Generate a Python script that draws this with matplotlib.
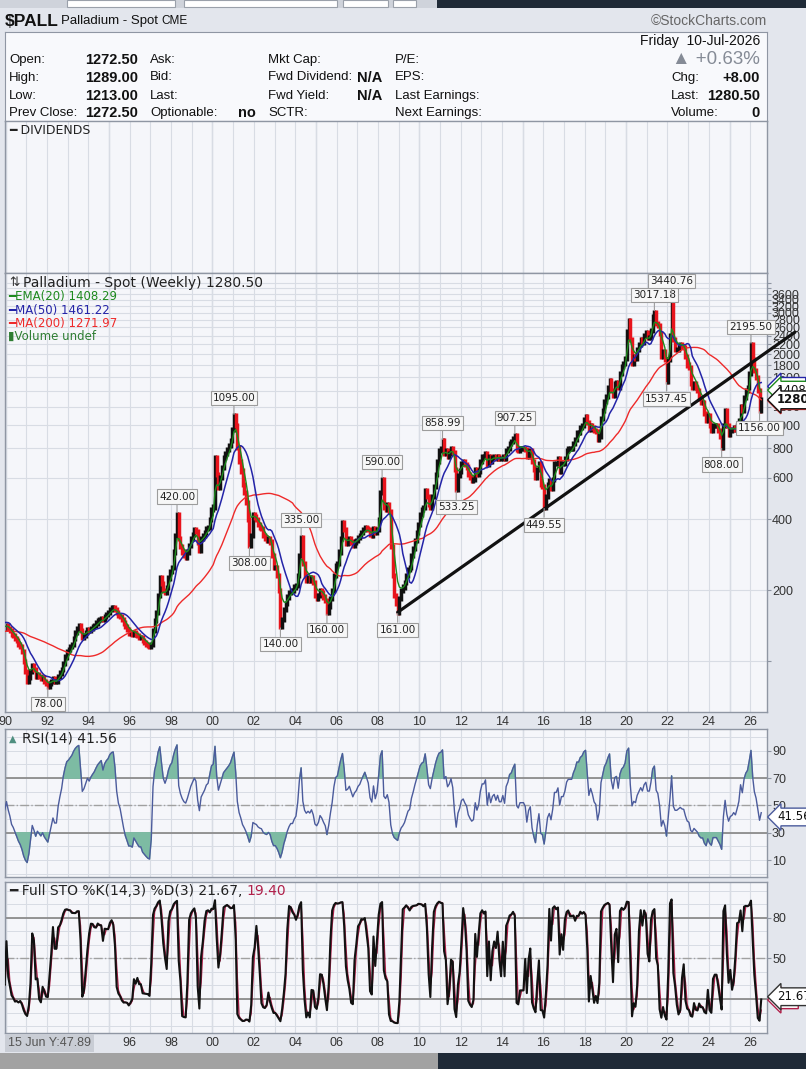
import matplotlib
matplotlib.use("Agg")
import matplotlib.pyplot as plt
import matplotlib.dates as mdates
import matplotlib.transforms as mtrans
from matplotlib.patches import Rectangle
import numpy as np
import pandas as pd

# Monthly closes (weekly extremes where a label marks them)
close_1980s = [
    130, 135, 140, 138, 135, 130, 128, 125, 125, 122, 120, 122,   # 1987
    125, 125, 123, 120, 122, 125, 128, 130, 128, 125, 128, 135,   # 1988
    140, 142, 150, 170, 155, 150, 145, 140, 140, 138, 140, 138,   # 1989
]
close_1990s = [
    142, 138, 135, 130, 128, 125, 122, 118, 115, 110, 100, 90,    # 1990
    82, 85, 90, 96, 92, 86, 88, 86, 84, 85, 82, 80,               # 1991
    78, 80, 82, 84, 82, 82, 86, 89, 92, 98, 104, 110,             # 1992
    112, 115, 118, 125, 132, 138, 142, 135, 126, 128, 132, 136,   # 1993
    135, 138, 140, 142, 145, 148, 150, 152, 150, 155, 158, 160,   # 1994
    165, 168, 169, 166, 160, 156, 154, 150, 145, 140, 136, 131,   # 1995
    131, 130, 132, 130, 128, 126, 126, 122, 120, 118, 116, 115,   # 1996
    118, 135, 149, 160, 190, 227, 214, 200, 195, 205, 225, 240,   # 1997
    250, 290, 340, 420, 330, 305, 290, 280, 276, 290, 310, 330,   # 1998
    345, 360, 355, 320, 295, 330, 340, 350, 365, 370, 400, 440,   # 1999
]
close_2000s = [
    450, 730, 620, 546, 600, 660, 730, 760, 790, 820, 864, 960,   # 2000
    1095, 1000, 808, 700, 640, 560, 520, 470, 400, 308, 340, 420, # 2001
    408, 400, 380, 370, 365, 340, 330, 325, 330, 320, 280, 250,   # 2002
    250, 230, 200, 140, 150, 165, 175, 187, 195, 200, 200, 206,   # 2003
    210, 230, 280, 335, 260, 230, 220, 225, 220, 227, 215, 190,   # 2004
    185, 190, 200, 195, 187, 180, 160, 170, 185, 200, 230, 255,   # 2005
    260, 290, 330, 385, 360, 316, 320, 330, 320, 310, 320, 325,   # 2006
    335, 340, 350, 360, 370, 365, 360, 345, 340, 365, 350, 360,   # 2007
    400, 520, 590, 450, 440, 460, 430, 305, 230, 190, 175, 161,   # 2008
    185, 200, 206, 215, 230, 245, 250, 280, 300, 325, 350, 380,   # 2009
]
close_2010s = [
    420, 440, 448, 530, 500, 460, 450, 500, 550, 620, 700, 780,   # 2010
    800, 859, 760, 780, 740, 760, 800, 768, 650, 533, 610, 640,   # 2011
    690, 700, 680, 665, 620, 600, 585, 590, 650, 620, 640, 700,   # 2012
    740, 740, 762, 680, 740, 700, 730, 740, 720, 740, 720, 720,   # 2013
    740, 720, 780, 800, 840, 850, 880, 907, 790, 780, 800, 800,   # 2014
    800, 790, 740, 770, 780, 700, 650, 600, 650, 690, 560, 550,   # 2015
    450, 500, 560, 580, 540, 590, 690, 690, 720, 640, 690, 690,   # 2016
    720, 780, 800, 800, 800, 840, 870, 930, 930, 980, 1000, 1060, # 2017
    1090, 1030, 960, 1000, 980, 950, 940, 870, 900, 1070, 1150, 1260,    # 2018
    1320, 1440, 1550, 1400, 1340, 1500, 1520, 1440, 1660, 1770, 1820, 1920,  # 2019
]
close_2020s = [
    2500, 2790, 2300, 1830, 1950, 1920, 2100, 2200, 2300, 2250, 2400, 2460,  # 2020
    2350, 2350, 2520, 2900, 3017, 2700, 2650, 2450, 1950, 2050, 1900, 1537,  # 2021
    1900, 2400, 3440, 2300, 2100, 2100, 2150, 2200, 2150, 2140, 1950, 1800,  # 2022
    1760, 1500, 1450, 1500, 1450, 1400, 1300, 1250, 1250, 1120, 1050, 1100,  # 2023
    1000, 950, 1000, 1000, 1000, 950, 900, 808, 1000, 1150, 1000, 910,       # 2024
    950, 960, 980, 960, 1000, 1050, 1200, 1150, 1310, 1400, 1450, 1660,      # 2025
    2195, 1900, 1700, 1595, 1400, 1156, 1280,                                # 2026
]

# labelled highs / lows
ann_dates = ["1992-01-15", "1998-04-15", "2001-01-15", "2001-10-15", "2003-04-15",
             "2004-04-15", "2005-07-15", "2008-03-15", "2008-12-15", "2011-02-15",
             "2011-10-15", "2014-08-15", "2016-01-15", "2021-05-15", "2022-03-15",
             "2021-12-15", "2024-08-15", "2026-01-15", "2026-06-15"]
ann_values = [78.00, 420.00, 1095.00, 308.00, 140.00, 335.00, 160.00, 590.00, 161.00,
              858.99, 533.25, 907.25, 449.55, 3017.18, 3440.76, 1537.45, 808.00,
              2195.50, 1156.00]
ann_above = [False, True, True, False, False, True, False, True, False, True, False,
             True, False, True, True, False, False, True, False]

trend_dates = ["2008-12-15", "2028-03-01"]
trend_values = [161, 2480]

price_ticks = [100] + list(range(200, 4001, 200))

NARROW = ["Liberation Sans", "DejaVu Sans"]
VERD = "DejaVu Sans"
W, H = 806, 1069
BG = "#e3e6ed"
PANEL = "#f5f6fa"
GRID = "#d8dce4"
SPINE = "#8f96a3"

close = pd.Series(close_1980s + close_1990s + close_2000s + close_2010s + close_2020s,
                  dtype=float)
dates = pd.date_range("1987-01-01", periods=len(close), freq="MS") + pd.Timedelta(days=14)
close.index = dates

ema20 = close.ewm(span=4.7, adjust=False).mean()
ma50 = close.rolling(12, min_periods=8).mean()
ma200 = close.rolling(46, min_periods=30).mean()

# indicators recomputed on the monthly series (windows scaled from weeks)
delta = close.diff()
up = delta.clip(lower=0).ewm(alpha=1 / 8, adjust=False).mean()
dn = (-delta.clip(upper=0)).ewm(alpha=1 / 8, adjust=False).mean()
rsi = 100 - 100 / (1 + up / dn)

prev = close.shift(1).fillna(close)
bar_lo = np.minimum(prev, close)
bar_hi = np.maximum(prev, close)

lo = (bar_lo * 0.96).rolling(5).min()
hi = (bar_hi * 1.04).rolling(5).max()
sto_k = 100 * (close - lo) / (hi - lo)
sto_d = sto_k.rolling(2).mean()

fig = plt.figure(figsize=(W / 100, H / 100), dpi=100, facecolor=BG)


def rect(x0, y0, x1, y1):
    return [x0 / W, 1 - y1 / H, (x1 - x0) / W, (y1 - y0) / H]


def T(x, y, s, **kw):
    kw.setdefault("va", "center")
    kw.setdefault("fontsize", 9.5)
    kw.setdefault("family", NARROW)
    kw.setdefault("color", "#111111")
    return fig.text(x / W, 1 - y / H, s, **kw)


# browser strips top / bottom
fig.patches.append(Rectangle((0, 1 - 8 / H), 437 / W, 8 / H, transform=fig.transFigure,
                             fc="#cfd3db", ec="none"))
for bx0, bx1 in [(67, 175), (184, 337), (343, 388), (393, 416)]:
    fig.patches.append(Rectangle((bx0 / W, 1 - 7 / H), (bx1 - bx0) / W, 7 / H,
                                 transform=fig.transFigure, fc="white", ec="#9aa0aa", lw=0.8))
fig.patches.append(Rectangle((437 / W, 1 - 8 / H), 1 - 437 / W, 8 / H,
                             transform=fig.transFigure, fc="#1f2a37", ec="none"))
fig.patches.append(Rectangle((0, 0), 438 / W, 16 / H, transform=fig.transFigure,
                             fc="#a2a2a2", ec="none"))
fig.patches.append(Rectangle((438 / W, 0), 1 - 438 / W, 16 / H, transform=fig.transFigure,
                             fc="#1f2a37", ec="none"))

# header
T(5, 21, "$PALL", fontsize=12.5, weight="bold")
T(61, 21, "Palladium - Spot", fontsize=9.5)
T(161, 21, "CME", fontsize=8.5)
T(767, 21, "©StockCharts.com", fontsize=10, ha="right", color="#666666")

# info box
ax_info = fig.add_axes(rect(5, 31.5, 766.5, 121))
ax_info.set_facecolor("#f8f9fc")
ax_info.set_xticks([])
ax_info.set_yticks([])
for sp in ax_info.spines.values():
    sp.set_color(SPINE)

rows = [60, 77.5, 95.5, 113]
VAL = 10.5
for lab, val, y in zip(["Open:", "High:", "Low:", "Prev Close:"],
                       ["1272.50", "1289.00", "1213.00", "1272.50"], rows):
    T(9, y, lab)
    T(138, y, val, ha="right", weight="bold", fontsize=VAL)
for lab, y in zip(["Ask:", "Bid:", "Last:", "Optionable:"], rows):
    T(150, y, lab)
T(256, rows[3], "no", ha="right", weight="bold", fontsize=VAL)
for lab, y in zip(["Mkt Cap:", "Fwd Dividend:", "Fwd Yield:", "SCTR:"], rows):
    T(268, y, lab)
T(382, rows[1], "N/A", ha="right", weight="bold", fontsize=VAL)
T(382, rows[2], "N/A", ha="right", weight="bold", fontsize=VAL)
for lab, y in zip(["P/E:", "EPS:", "Last Earnings:", "Next Earnings:"], rows):
    T(395, y, lab)
T(760, 41, "Friday  10-Jul-2026", ha="right", fontsize=10)
T(760, 60, "▲ +0.63%", ha="right", fontsize=13.5, color="#858b96")
for lab, val, y in zip(["Chg:", "Last:", "Volume:"], ["+8.00", "1280.50", "0"], rows[1:]):
    T(671, y, lab)
    T(760, y, val, ha="right", weight="bold", fontsize=VAL)


def style_panel(ax, first_label=1990):
    ax.set_facecolor(PANEL)
    for sp in ax.spines.values():
        sp.set_color(SPINE)
        sp.set_linewidth(1.0)
    ax.set_xlim(pd.Timestamp("1989-12-20"), pd.Timestamp("2026-10-16"))
    ax.xaxis.set_major_locator(mdates.YearLocator(1))

    def fmt(v, p):
        yr = mdates.num2date(v).year
        return f"{yr % 100:02d}" if yr % 2 == 0 and yr >= first_label else ""
    ax.xaxis.set_major_formatter(plt.FuncFormatter(fmt))
    ax.grid(True, axis="x", color=GRID, lw=0.8)
    for yr in range(1990, 2030, 5):
        ax.axvline(pd.Timestamp(f"{yr}-01-01"), color="#c3c8d2", lw=0.9, zorder=0.5)
    ax.tick_params(axis="x", length=0, labelsize=9, labelcolor="#333333", pad=3,
                   labelfontfamily=NARROW)
    ax.yaxis.tick_right()
    ax.tick_params(axis="y", length=3, color=SPINE, labelsize=9, labelcolor="#333333",
                   pad=1, labelfontfamily=NARROW)
    ax.set_axisbelow(True)


def value_tag(a, val, txt, edge, weight="normal", z=7):
    tr = mtrans.blended_transform_factory(a.transAxes, a.transData)
    a.text(1.014, val, txt, transform=tr, ha="left", va="center", fontsize=8.5,
           family=VERD, weight=weight, color="#111111", clip_on=False, zorder=z,
           bbox=dict(boxstyle="larrow,pad=0.2", fc="white", ec=edge, lw=1.0))


# dividends panel
ax_div = fig.add_axes(rect(5, 121, 766.5, 273))
style_panel(ax_div)
ax_div.set_yticks([])
ax_div.tick_params(axis="x", labelbottom=False)
T(9, 130, "━ DIVIDENDS", fontsize=9, family=VERD, color="#222222")

# main price panel
ax = fig.add_axes(rect(5, 273, 766.5, 712))
style_panel(ax)
ax.set_yscale("log")
ax.set_ylim(60.8, 4420)
ax.yaxis.set_major_locator(plt.FixedLocator(price_ticks))
ax.yaxis.set_minor_locator(plt.NullLocator())
ax.yaxis.set_major_formatter(plt.FuncFormatter(
    lambda v, p: f"{v:.0f}" if 200 <= v <= 3600 else ""))
ax.grid(True, axis="y", color=GRID, lw=0.8)

bar_col = np.where(close >= prev, "#111111", "#e8141c")
ax.vlines(dates, bar_lo * 0.975, bar_hi * 1.025, colors=bar_col, lw=2.5, zorder=2)
ax.plot(dates, ma200, color="#ee2a2a", lw=1.0, zorder=3)
ax.plot(dates, ma50, color="#2424a8", lw=1.1, zorder=3)
ax.plot(dates, ema20, color="#1e8a1e", lw=1.0, zorder=3)
ax.plot(pd.to_datetime(trend_dates), trend_values, color="#111111", lw=2.3,
        clip_on=False, zorder=4, solid_capstyle="round")

for d, v, above in zip(ann_dates, ann_values, ann_above):
    ax.annotate(f"{v:.2f}", xy=(pd.Timestamp(d), v), xytext=(0, 9 if above else -9),
                textcoords="offset points", ha="center", va="bottom" if above else "top",
                fontsize=7.5, family=VERD, color="#222222", zorder=6,
                bbox=dict(boxstyle="square,pad=0.2", fc="#f7f7f7", ec="#9c9c9c", lw=0.8),
                arrowprops=dict(arrowstyle="-", color="#9c9c9c", lw=0.8,
                                shrinkA=0, shrinkB=1))

# right-edge value tags (the MA50 / MA200 tags sit hidden under the others)
value_tag(ax, 1461.22, "       ", "#2424a8")
value_tag(ax, 1271.97, "       ", "#ee2a2a")
value_tag(ax, 1408.29, "1408.29", "#1e8a1e")
value_tag(ax, 1280.50, "1280.50", "#111111", weight="bold", z=8)

T(9, 283, "⇅", fontsize=9, family=VERD, color="#333333")
T(23, 283, "Palladium - Spot (Weekly) 1280.50", fontsize=10, family=VERD,
  color="#222222")
T(8, 296.5, "━EMA(20) 1408.29", fontsize=8.5, family=VERD, color="#1e8a1e")
T(8, 310, "━MA(50) 1461.22", fontsize=8.5, family=VERD, color="#2424a8")
T(8, 323.5, "━MA(200) 1271.97", fontsize=8.5, family=VERD, color="#ee2a2a")
T(8, 336.5, "▮Volume undef", fontsize=8.5, family=VERD, color="#2e7d32")

# RSI panel
ax_r = fig.add_axes(rect(5, 729, 766.5, 877))
style_panel(ax_r)
ax_r.set_ylim(-2.4, 106)
ax_r.set_yticks([10, 30, 50, 70, 90])
ax_r.yaxis.set_minor_locator(plt.FixedLocator(range(0, 101, 10)))
ax_r.tick_params(axis="y", which="minor", length=0)
ax_r.grid(True, axis="y", which="both", color=GRID, lw=0.7)
ax_r.tick_params(axis="x", labelbottom=False)
ax_r.axhline(70, color="#8c8c8c", lw=1.3, zorder=1)
ax_r.axhline(30, color="#8c8c8c", lw=1.3, zorder=1)
ax_r.axhline(50, color="#a0a0a0", lw=1.0, ls="-.", zorder=1)
ax_r.fill_between(dates, rsi, 70, where=rsi > 70, interpolate=True, color="#7dbba3", zorder=2)
ax_r.fill_between(dates, rsi, 30, where=rsi < 30, interpolate=True, color="#7dbba3", zorder=2)
ax_r.plot(dates, rsi, color="#4b5b9c", lw=1.0, zorder=3)
value_tag(ax_r, 41.56, "41.56", "#4b5b9c")
T(9, 739, "▲", fontsize=7, family=VERD, color="#4f8f80")
T(22, 739, "RSI(14) 41.56", fontsize=10, family=VERD, color="#222222")

# Full stochastics panel
ax_s = fig.add_axes(rect(5, 882, 766.5, 1033))
style_panel(ax_s, first_label=1996)
ax_s.set_ylim(-5.1, 106.3)
ax_s.set_yticks([20, 50, 80])
ax_s.yaxis.set_minor_locator(plt.FixedLocator(range(0, 101, 10)))
ax_s.tick_params(axis="y", which="minor", length=0)
ax_s.grid(True, axis="y", which="both", color=GRID, lw=0.7)
ax_s.axhline(80, color="#8c8c8c", lw=1.3, zorder=1)
ax_s.axhline(20, color="#8c8c8c", lw=1.3, zorder=1)
ax_s.axhline(50, color="#a0a0a0", lw=1.0, ls="-.", zorder=1)
ax_s.plot(dates, sto_d, color="#b0204a", lw=1.0, zorder=2)
ax_s.plot(dates, sto_k, color="#111111", lw=1.5, zorder=3)
value_tag(ax_s, 19.40, "     ", "#b0204a", z=6)
value_tag(ax_s, 21.67, "21.67", "#333333")
t1 = T(9, 891, "━ Full STO %K(14,3) %D(3) 21.67, ", fontsize=10, family=VERD,
       color="#222222")
fig.add_artist(plt.Annotation("19.40", xy=(1, 0.5), xycoords=t1, va="center",
                              fontsize=10, family=VERD, color="#b0204a"))

# hover readout over the first date labels
T(8, 1043, "15 Jun Y:47.89", fontsize=9, color="#555555", zorder=10,
  bbox=dict(boxstyle="square,pad=0.25", fc="#c9cdd5", ec="none"))

fig.savefig("out.png", dpi=100, facecolor=BG)
